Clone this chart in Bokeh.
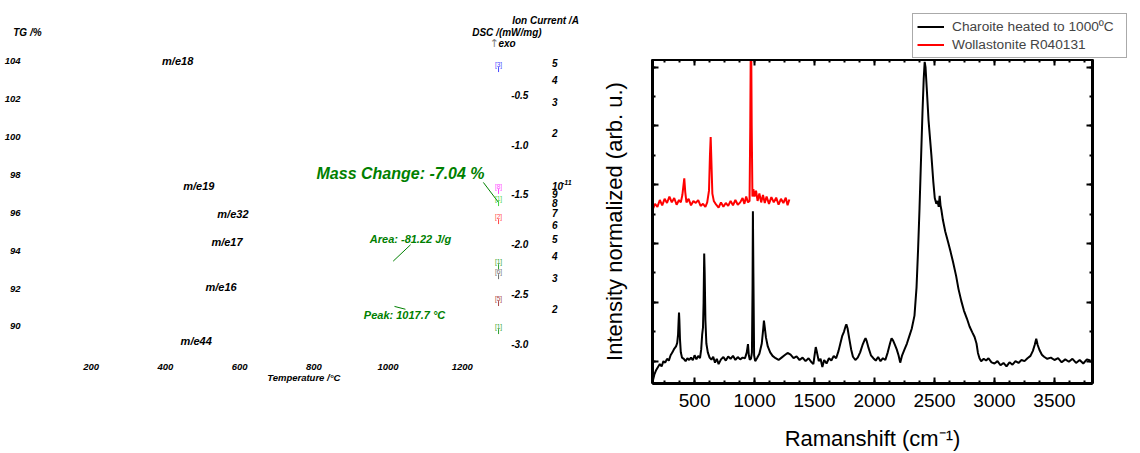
from bokeh.plotting import figure
from bokeh.models import (Range1d, LinearAxis, LogScale, SingleIntervalTicker,
                          Legend, LegendItem)
from bokeh.layouts import row, column
from bokeh.embed import file_html
from bokeh.resources import INLINE
from bokeh.core.properties import value

FONT = "Liberation Sans"

# ---------------- left panel (TG / DSC / MS) data ----------------
temp_ticks = [200, 400, 600, 800, 1000, 1200]
tg_ticks = [104, 102, 100, 98, 96, 94, 92, 90]
dsc_ticks = [-0.5, -1.0, -1.5, -2.0, -2.5, -3.0]
ion_ticks = [5e-11, 4e-11, 3e-11, 2e-11, 1e-11, 9e-12, 8e-12, 7e-12,
             6e-12, 5e-12, 4e-12, 3e-12, 2e-12]
ion_tick_labels = ["5", "4", "3", "2", "10", "9", "8", "7", "6", "5", "4", "3", "2"]
ms_labels = ["m/e18", "m/e19", "m/e32", "m/e17", "m/e16", "m/e44"]
ms_label_temp = [391, 448, 540, 524, 508, 441]
ms_label_tg = [104.0, 97.4, 95.92, 94.45, 92.11, 89.21]
tag_labels = ["[3]", "[8]", "[1]", "[2]", "[1]", "[6]", "[5]", "[1]"]
tag_tg = [103.84, 97.40, 96.76, 95.81, 93.43, 92.90, 91.48, 90.00]
tag_colors = ["#4646ff", "#ff46ff", "#3fd23f", "#ff4646", "#2f9f2f",
              "#6e6e6e", "#a84444", "#2f9f2f"]
tag_temp = 1298
mass_change_text = "Mass Change: -7.04 %"
area_text = "Area: -81.22 J/g"
peak_text = "Peak: 1017.7 °C"
mass_line_temp = [1257, 1298]
mass_line_tg = [97.61, 96.55]
area_line_temp = [1014, 1061]
area_line_tg = [93.45, 94.32]
peak_line_temp = [1017.5, 1047]
peak_line_tg = [91.06, 90.91]

# ---------------- right panel (Raman) data ----------------
black_shift = [150, 165, 180, 195, 210, 225, 240, 255, 270, 285, 300, 315, 330, 345, 355,
               362, 367, 370, 373, 378, 385, 395, 410, 425, 440, 455, 470, 485, 500, 515,
               530, 545, 555, 563, 570, 575, 580, 584, 590, 598, 610, 625, 640, 655, 670,
               685, 700, 720, 740, 760, 780, 800, 820, 840, 860, 880, 900, 920, 935, 945,
               952, 960, 970, 978, 983, 986, 990, 996, 1005, 1020, 1040, 1060, 1072, 1078,
               1085, 1095, 1110, 1130, 1150, 1175, 1200, 1225, 1250, 1275, 1300, 1325, 1350,
               1375, 1400, 1425, 1450, 1475, 1490, 1500, 1510, 1520, 1535, 1550, 1565, 1580,
               1600, 1620, 1640, 1660, 1680, 1700, 1715, 1730, 1745, 1758, 1765, 1775, 1790,
               1805, 1820, 1840, 1860, 1880, 1900, 1915, 1925, 1935, 1950, 1970, 1990, 2010,
               2030, 2050, 2070, 2090, 2110, 2130, 2142, 2155, 2170, 2185, 2200, 2214, 2230,
               2250, 2270, 2290, 2310, 2333, 2350, 2363, 2375, 2390, 2400, 2410, 2418, 2425,
               2435, 2450, 2474, 2490, 2502, 2515, 2525, 2535, 2543, 2550, 2557, 2570, 2590,
               2613, 2635, 2654, 2680, 2700, 2723, 2745, 2770, 2792, 2815, 2834, 2850, 2862,
               2875, 2889, 2910, 2930, 2950, 2975, 3000, 3025, 3050, 3075, 3100, 3125, 3150,
               3175, 3200, 3225, 3250, 3275, 3300, 3320, 3335, 3348, 3360, 3375, 3395, 3413,
               3440, 3470, 3500, 3530, 3560, 3590, 3620, 3650, 3680, 3710, 3740, 3770, 3800]
black_int = [-0.070, -0.045, -0.030, -0.020, -0.010, -0.018, 0.000, -0.005, 0.008, 0.002,
             0.020, 0.030, 0.042, 0.050, 0.062, 0.090, 0.140, 0.165, 0.140, 0.075, 0.030,
             0.012, 0.008, 0.000, 0.010, 0.004, 0.012, 0.003, 0.020, 0.006, 0.018, 0.010,
             0.040, 0.090, 0.115, 0.200, 0.366, 0.300, 0.140, 0.060, 0.030, 0.012, 0.005,
             0.015, -0.005, 0.008, -0.010, 0.006, 0.014, 0.002, 0.016, 0.008, 0.018, 0.004,
             0.014, 0.006, 0.012, 0.010, 0.030, 0.058, 0.020, 0.005, 0.008, 0.030, 0.250,
             0.510, 0.300, 0.020, 0.000, 0.010, 0.025, 0.060, 0.110, 0.138, 0.115, 0.080,
             0.050, 0.030, 0.018, 0.010, 0.004, 0.012, 0.020, 0.028, 0.022, 0.010, 0.016,
             0.004, 0.012, 0.000, 0.010, -0.004, -0.010, 0.020, 0.048, 0.030, 0.000, 0.008,
             -0.020, 0.004, -0.008, 0.010, 0.002, 0.018, 0.010, 0.035, 0.060, 0.085, 0.100,
             0.118, 0.125, 0.112, 0.075, 0.040, 0.015, 0.004, 0.012, 0.030, 0.055, 0.070,
             0.078, 0.068, 0.045, 0.020, 0.010, 0.002, 0.014, 0.000, 0.010, 0.004, 0.030,
             0.062, 0.078, 0.070, 0.055, 0.040, 0.020, -0.005, 0.020, 0.040, 0.060, 0.085,
             0.110, 0.155, 0.250, 0.380, 0.520, 0.720, 0.850, 0.960, 1.018, 1.000, 0.930,
             0.820, 0.700, 0.610, 0.555, 0.535, 0.545, 0.525, 0.562, 0.530, 0.515, 0.480,
             0.440, 0.405, 0.370, 0.338, 0.290, 0.245, 0.205, 0.172, 0.145, 0.118, 0.098,
             0.082, 0.060, 0.028, 0.010, 0.000, 0.008, 0.002, 0.010, -0.004, -0.008, 0.000,
             -0.014, -0.006, -0.018, -0.004, -0.012, 0.000, -0.006, 0.004, 0.000, 0.010,
             0.018, 0.035, 0.055, 0.076, 0.055, 0.038, 0.022, 0.015, 0.008, 0.012, 0.004,
             0.010, -0.004, 0.006, -0.002, 0.008, -0.006, 0.004, -0.008, 0.006, 0.002]
red_shift = [150, 170, 190, 210, 230, 250, 270, 290, 310, 330, 350, 370, 385, 398, 405, 414,
             422, 432, 450, 470, 490, 510, 530, 550, 570, 590, 605, 620, 628, 634, 640, 648,
             660, 680, 700, 720, 740, 760, 780, 800, 820, 840, 860, 880, 900, 915, 930, 945,
             958, 964, 970, 976, 982, 990, 1000, 1012, 1025, 1040, 1055, 1070, 1085, 1100,
             1120, 1140, 1160, 1180, 1200, 1220, 1240, 1260, 1275, 1290]
red_int = [0.515, 0.535, 0.525, 0.548, 0.530, 0.552, 0.538, 0.560, 0.540, 0.555, 0.532,
           0.548, 0.540, 0.565, 0.590, 0.622, 0.575, 0.540, 0.552, 0.530, 0.545, 0.538,
           0.548, 0.528, 0.535, 0.525, 0.540, 0.580, 0.700, 0.762, 0.680, 0.570, 0.545,
           0.532, 0.522, 0.540, 0.525, 0.538, 0.528, 0.545, 0.530, 0.548, 0.532, 0.540,
           0.555, 0.535, 0.560, 0.540, 0.545, 0.800, 1.200, 0.800, 0.560, 0.585, 0.560,
           0.580, 0.545, 0.570, 0.540, 0.565, 0.538, 0.560, 0.535, 0.558, 0.540, 0.556,
           0.532, 0.552, 0.538, 0.556, 0.530, 0.550]
raman_x_major = 500
raman_y_major = 0.2
legend_labels = ["Charoite heated to 1000ºC", "Wollastonite R040131"]
legend_colors = ["black", "#ff0000"]


def no_frame_align(p):
    if "frame_align" in p.properties():
        p.frame_align = False


# ======================= left figure =======================
p1 = figure(width=598, height=453, x_range=Range1d(-44.5, 1567.4),
            y_range=Range1d(83.29, 107.22), output_backend="svg", title=None,
            toolbar_location=None, min_border=0, x_axis_type=None, y_axis_type=None)
no_frame_align(p1)
p1.outline_line_color = None
p1.grid.visible = False
p1.extra_y_ranges = {"dsc": Range1d(-4.1014, 0.4468), "ion": Range1d(3.003e-13, 1.137e-10)}
p1.extra_y_scales = {"ion": LogScale()}

bi = dict(text_font=value(FONT), text_font_style="bold italic", text_baseline="middle")

p1.text(x=[9.4] * len(tg_ticks), y=tg_ticks, text=[str(t) for t in tg_ticks],
        text_align="right", text_font_size="9.5px", text_color="black", **bi)
p1.text(x=temp_ticks, y=[87.85] * len(temp_ticks), text=[str(t) for t in temp_ticks],
        text_align="center", text_font_size="9.5px", text_color="black", **bi)
p1.text(x=[1332] * len(dsc_ticks), y=dsc_ticks, text=[f"{d:.1f}" for d in dsc_ticks],
        y_range_name="dsc", text_align="left", text_font_size="10px",
        text_color="black", **bi)
p1.text(x=[1442] * len(ion_ticks), y=ion_ticks, text=ion_tick_labels,
        y_range_name="ion", text_align="left", text_font_size="10px",
        text_color="black", **bi)
p1.text(x=[1442], y=[1e-11], text=["-11"], y_range_name="ion", x_offset=10,
        y_offset=-4, text_align="left", text_font_size="7px", text_color="black", **bi)

p1.text(x=ms_label_temp, y=ms_label_tg, text=ms_labels, text_align="left",
        text_font_size="11px", text_color="black", **bi)

p1.text(x=[-10.2], y=[105.55], text=["TG /%"], text_align="left",
        text_font_size="10px", text_color="black", **bi)
p1.text(x=[1334.8], y=[106.17], text=["Ion Current /A"], text_align="left",
        text_font_size="10px", text_color="black", **bi)
p1.text(x=[1227], y=[105.52], text=["DSC /(mW/mg)"], text_align="left",
        text_font_size="10px", text_color="black", **bi)
p1.text(x=[1274], y=[104.97], text=["↑"], text_align="left", text_font_size="11px",
        text_color="#808080", text_font=value("DejaVu Sans"), text_baseline="middle")
p1.text(x=[1297.8], y=[104.97], text=["exo"], text_align="left",
        text_font_size="10px", text_color="black", **bi)
p1.text(x=[674.4], y=[87.31], text=["Temperature /°C"], text_align="left",
        text_font_size="9.5px", text_color="black", **bi)

GREEN = "#008000"
p1.text(x=[807.3], y=[98.07], text=[mass_change_text], text_align="left",
        text_font_size="16px", text_color=GREEN, **bi)
p1.text(x=[950.9], y=[94.63], text=[area_text], text_align="left",
        text_font_size="11px", text_color=GREEN, **bi)
p1.text(x=[934.8], y=[90.58], text=[peak_text], text_align="left",
        text_font_size="11px", text_color=GREEN, **bi)
p1.line(mass_line_temp, mass_line_tg, line_color=GREEN, line_width=1)
p1.line(area_line_temp, area_line_tg, line_color=GREEN, line_width=1)
p1.line(peak_line_temp, peak_line_tg, line_color=GREEN, line_width=1)

p1.text(x=[tag_temp] * len(tag_labels), y=tag_tg, text=tag_labels, text_color=tag_colors,
        text_align="center", text_baseline="middle", text_font_size="6.5px",
        text_font=value(FONT))
p1.segment(x0=[tag_temp] * len(tag_tg), y0=[t - 0.14 for t in tag_tg],
           x1=[tag_temp] * len(tag_tg), y1=[t - 0.40 for t in tag_tg],
           line_color=tag_colors, line_width=1)

# ======================= legend strip above the Raman plot =======================
p_leg = figure(width=542, height=59, x_range=Range1d(0, 1), y_range=Range1d(0, 1),
               output_backend="svg", title=None, toolbar_location=None, min_border=0,
               x_axis_type=None, y_axis_type=None)
no_frame_align(p_leg)
p_leg.outline_line_color = None
p_leg.grid.visible = False
# legend proxies: one-point lines lying outside the visible strip
leg_renderers = [p_leg.line(x=[2, 3], y=[2, 3], line_color=c, line_width=2)
                 for c in legend_colors]
legend = Legend(items=[LegendItem(label=lab, renderers=[r])
                       for lab, r in zip(legend_labels, leg_renderers)],
                location="top_right", padding=4, spacing=1, label_height=17,
                glyph_height=17, glyph_width=27, label_standoff=8, label_width=170,
                margin=13, label_text_font=FONT, label_text_font_size="13.7px",
                border_line_color="#555555", border_line_width=1,
                background_fill_color="white", background_fill_alpha=1.0)
p_leg.add_layout(legend)

# ======================= right figure =======================
p2 = figure(width=542, height=394, x_range=Range1d(149, 3817),
            y_range=Range1d(-0.076, 1.026), output_backend="svg", title=None,
            toolbar_location=None, min_border_left=52, min_border_right=48,
            min_border_top=0, min_border_bottom=69)
no_frame_align(p2)
p2.grid.visible = False
p2.outline_line_color = "black"
p2.outline_line_width = 2

p2.line(black_shift, black_int, line_color=legend_colors[0], line_width=2)
p2.line(red_shift, red_int, line_color=legend_colors[1], line_width=2)


def style_axis(ax, show_labels):
    ax.axis_line_width = 3
    ax.axis_line_color = "black"
    ax.major_tick_in = 6
    ax.major_tick_out = 0
    ax.minor_tick_in = 3
    ax.minor_tick_out = 0
    ax.major_tick_line_width = 2
    ax.minor_tick_line_width = 2
    ax.major_tick_line_color = "black"
    ax.minor_tick_line_color = "black"
    if show_labels:
        ax.major_label_text_font = FONT
        ax.major_label_text_font_size = "19px"
        ax.major_label_text_color = "black"
        ax.major_label_standoff = 10
    else:
        ax.major_label_text_color = None
        ax.major_label_text_font_size = "1px"
        ax.major_label_standoff = 0


xax = p2.xaxis[0]
style_axis(xax, True)
xax.ticker = SingleIntervalTicker(interval=raman_x_major, num_minor_ticks=4)
xax.axis_label = "Ramanshift (cm⁻¹)"
xax.axis_label_standoff = 16

yax = p2.yaxis[0]
style_axis(yax, False)
yax.ticker = SingleIntervalTicker(interval=raman_y_major, num_minor_ticks=2)
yax.axis_label = "Intensity normalized (arb. u.)"
yax.axis_label_standoff = 26

for ax in (xax, yax):
    ax.axis_label_text_font = FONT
    ax.axis_label_text_font_size = "22px"
    ax.axis_label_text_font_style = "normal"
    ax.axis_label_text_color = "black"

top_ax = LinearAxis(ticker=SingleIntervalTicker(interval=raman_x_major, num_minor_ticks=4))
style_axis(top_ax, False)
p2.add_layout(top_ax, "above")
right_ax = LinearAxis(ticker=SingleIntervalTicker(interval=raman_y_major, num_minor_ticks=2))
style_axis(right_ax, False)
p2.add_layout(right_ax, "right")

layout = row(p1, column(p_leg, p2))
open("out.html", "w").write(file_html(layout, INLINE))
